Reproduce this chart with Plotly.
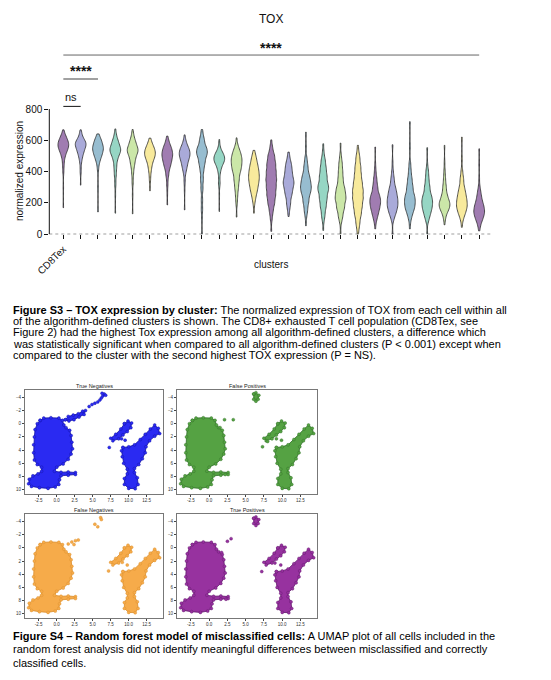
import numpy as np
import plotly.graph_objects as go

# ---------------- Figure S3 : TOX expression per cluster ----------------
cluster_labels = ["CD8Tex"] + [""] * 24
violin_colors = ["#a07cb1", "#a9aad9", "#97bdd0", "#96d6c4", "#cbe7a8", "#f8ea9c"]

# expression levels and how many cells sit at each level
tox_levels = [
    [170, 300, 400, 450, 500, 540, 575, 610, 640, 667],
    [314, 400, 450, 490, 530, 570, 600, 640, 667],
    [143, 300, 420, 470, 510, 550, 590, 620, 641],
    [135, 250, 320, 380, 430, 480, 520, 550, 590, 630, 673],
    [131, 250, 330, 390, 440, 480, 520, 550, 590, 630, 669],
    [278, 350, 400, 440, 480, 515, 550, 585, 614],
    [188, 260, 320, 380, 430, 470, 510, 550, 590, 627],
    [156, 280, 340, 400, 440, 480, 515, 550, 590, 635],
    [0, 100, 160, 220, 290, 350, 410, 460, 510, 550, 600, 640, 669],
    [146, 250, 325, 380, 420, 460, 490, 520, 560, 605],
    [110, 200, 250, 300, 350, 400, 440, 480, 520, 560, 616],
    [135, 200, 240, 280, 320, 360, 400, 440, 480, 510, 536],
    [19, 100, 150, 200, 250, 300, 350, 400, 450, 500, 550, 603],
    [114, 160, 200, 250, 290, 330, 370, 410, 450, 490, 525],
    [55, 120, 160, 210, 260, 300, 340, 380, 430, 480, 560, 652],
    [25, 90, 130, 180, 230, 280, 320, 370, 420, 470, 520, 578],
    [0, 80, 120, 170, 220, 260, 300, 350, 400, 450, 500, 582],
    [0, 40, 80, 130, 180, 230, 280, 330, 380, 430, 480, 520, 568],
    [35, 90, 130, 170, 210, 250, 300, 350, 400, 450, 557],
    [0, 100, 140, 180, 220, 260, 300, 350, 400, 460, 572],
    [35, 90, 130, 170, 210, 250, 300, 350, 400, 450, 560, 719],
    [0, 90, 130, 170, 210, 250, 300, 350, 400, 450, 553],
    [61, 110, 150, 180, 210, 250, 300, 350, 400, 460, 568],
    [45, 100, 140, 180, 220, 260, 300, 350, 400, 480, 620],
    [22, 60, 100, 140, 180, 220, 260, 300, 360, 450, 546],
]
tox_counts = [
    [1, 1, 2, 3, 6, 12, 16, 10, 3, 1],
    [1, 2, 2, 5, 10, 16, 10, 3, 1],
    [1, 1, 2, 5, 10, 14, 9, 3, 1],
    [1, 1, 2, 3, 4, 6, 10, 12, 8, 3, 1],
    [1, 1, 2, 3, 5, 7, 11, 12, 8, 3, 1],
    [1, 2, 3, 5, 9, 13, 10, 4, 1],
    [1, 1, 2, 4, 7, 10, 13, 10, 4, 1],
    [1, 1, 2, 4, 7, 10, 13, 10, 4, 1],
    [1, 1, 2, 2, 3, 4, 5, 8, 12, 11, 6, 2, 1],
    [1, 1, 3, 2, 5, 11, 12, 8, 2, 1],
    [1, 2, 3, 5, 7, 9, 11, 12, 9, 4, 1],
    [1, 2, 4, 7, 9, 11, 10, 8, 5, 2, 1],
    [1, 2, 4, 7, 9, 10, 11, 10, 9, 7, 3, 1],
    [1, 2, 4, 6, 7, 10, 7, 6, 5, 2, 1],
    [1, 2, 4, 7, 9, 11, 9, 7, 5, 3, 1, 1],
    [1, 2, 4, 7, 9, 11, 10, 9, 7, 5, 2, 1],
    [1, 2, 5, 9, 11, 9, 8, 6, 5, 4, 2, 1],
    [1, 2, 4, 7, 9, 11, 11, 9, 7, 6, 4, 2, 1],
    [1, 3, 6, 9, 11, 9, 6, 4, 2, 1, 1],
    [1, 3, 7, 10, 10, 8, 6, 4, 2, 1, 1],
    [1, 2, 5, 9, 10, 9, 7, 5, 3, 2, 1, 1],
    [1, 3, 6, 9, 10, 8, 6, 4, 3, 1, 1],
    [1, 3, 7, 10, 10, 7, 5, 3, 2, 1, 1],
    [1, 3, 7, 10, 9, 7, 5, 4, 2, 1, 1],
    [1, 3, 8, 12, 10, 6, 4, 2, 1, 1, 1],
]
y_ticks = [0, 200, 400, 600, 800]

# ---------------- Figure S4 : UMAP panels ----------------
panel_titles = ["True Negatives", "False Positives", "False Negatives", "True Positives"]
panel_colors = ["#2a2af2", "#55a243", "#f6ab4a", "#97329f"]
panel_edges = ["#10109e", "#2f6e27", "#d98d2c", "#62176c"]
umap_xticks = [-2.5, 0, 2.5, 5, 7.5, 10, 12.5]
umap_xtext = ["-2.5", "0.0", "2.5", "5.0", "7.5", "10.0", "12.5"]
umap_yticks = [-4, -2, 0, 2, 4, 6, 8, 10]

# outlines of the dense point clouds (UMAP units)
left_mass_x = [-2.3, -1.8, -0.8, 0.3, 0.8, 1.0, 1.3, 1.8, 2.0, 2.1, 2.2, 2.0, 1.6, 0.9, 0.0, -0.3,
               0.6, 1.6, 2.6, 2.6, 1.6, 0.6, 0.4, 0.3, -0.2, -1.2, -2.4, -3.5, -3.9, -3.8, -3.3,
               -2.6, -2.1, -2.1, -2.7, -3.1, -3.2, -3.2, -3.1, -3.0, -2.7, -2.3]
left_mass_y = [-0.5, -0.85, -0.9, -0.85, -0.5, 0.2, 0.6, 1.0, 1.8, 2.8, 3.8, 4.6, 5.4, 6.1, 6.6, 7.2,
               7.35, 7.3, 7.4, 7.7, 7.8, 7.9, 8.5, 9.2, 9.6, 9.8, 9.7, 9.5, 9.1, 8.4, 7.9,
               7.6, 7.2, 6.6, 6.2, 5.5, 4.4, 3.2, 2.0, 0.9, 0.0, -0.5]
right_mass_x = [9.2, 10.0, 10.8, 11.6, 12.3, 13.0, 13.6, 14.1, 14.3, 13.6, 12.9, 12.4, 12.3, 11.9,
                11.4, 10.8, 10.8, 11.2, 11.3, 10.9, 10.0, 9.4, 9.4, 9.8, 9.8, 9.3, 9.1, 9.0, 9.2]
right_mass_y = [3.6, 3.5, 3.2, 2.4, 1.6, 0.8, 0.2, 0.7, 1.5, 1.9, 2.6, 3.5, 4.4, 5.3,
                6.2, 6.8, 7.4, 8.2, 9.2, 9.85, 9.8, 9.2, 8.3, 7.6, 6.9, 6.0, 5.0, 4.1, 3.6]
right_upper_x = [9.4, 9.9, 10.4, 10.3, 9.8, 9.2, 8.6, 7.8, 7.5, 8.2, 8.9, 9.4]
right_upper_y = [0.0, -0.4, -0.1, 0.6, 1.2, 1.7, 2.3, 2.6, 2.2, 1.6, 0.8, 0.0]
bridge_x = [1.2, 1.6, 2.3, 3.0, 3.6, 4.0, 3.8, 3.1, 2.4, 1.7, 1.2]
bridge_y = [-0.6, -1.1, -1.3, -1.5, -1.9, -2.0, -1.4, -1.0, -0.6, -0.4, -0.6]
top_knot_x = [6.1, 6.4, 6.8, 6.7, 6.4, 6.1, 6.1]
top_knot_y = [-4.5, -4.7, -4.3, -3.7, -3.4, -3.7, -4.5]

# loose cells outside the dense clouds
tn_stray_x = [4.5, 4.9, 5.3, 5.7, 6.0, 6.2, 6.4, 6.6, 6.8, 6.3, 7.3, 9.0, 9.5]
tn_stray_y = [-2.6, -2.9, -3.1, -3.3, -3.6, -3.9, -4.2, -4.5, -4.3, -4.6, 3.6, 2.3, 2.5]
fp_stray_x = [2.1, 3.3, 1.5, 2.2, 7.3, 9.2, 9.9, 8.0]
fp_stray_y = [-0.6, -0.6, 0.6, 7.7, 3.5, 2.3, 2.5, 2.7]
fn_stray_x = [1.6, 2.1, 2.6, 3.0, 2.4, 5.3, 5.7, 6.1, 6.2, 7.2, 9.1, 9.8]
fn_stray_y = [-0.6, -0.9, -1.1, -1.2, -0.5, -3.6, -3.2, -4.6, -4.3, 3.5, 2.2, 2.6]
tp_stray_x = [2.5, 3.0, 1.7, 2.3, 7.2, 9.0, 9.8]
tp_stray_y = [-1.0, -1.4, 0.7, 7.8, 3.6, 2.3, 2.6]

# ---------------- captions ----------------
s3_lines = [
    "<b>Figure S3 – TOX expression by cluster:</b> The normalized expression of TOX from each cell within all",
    "of the algorithm-defined clusters is shown. The CD8+ exhausted T cell population (CD8Tex, see",
    "Figure 2) had the highest Tox expression among all algorithm-defined clusters, a difference which",
    "was statistically significant when compared to all algorithm-defined clusters (P &lt; 0.001) except when",
    "compared to the cluster with the second highest TOX expression (P = NS).",
]
s4_lines = [
    "<b>Figure S4 – Random forest model of misclassified cells:</b> A UMAP plot of all cells included in the",
    "random forest analysis did not identify meaningful differences between misclassified and correctly",
    "classified cells.",
]

# the page body keeps an 8px margin, so the figure is sized to fit inside it
OFF = 8
W, H = 551 - 2 * OFF, 680 - 2 * OFF
FONT = "Liberation Sans, Arial, sans-serif"


def px_x(p):
    return (p - OFF) / W


def px_y(p):
    return 1 - (p - OFF) / H


fig = go.Figure()

# violins
for i, (lv, ct) in enumerate(zip(tox_levels, tox_counts)):
    vals = np.repeat(lv, ct)
    fig.add_trace(go.Violin(
        x=[i] * len(vals), y=vals, xaxis="x", yaxis="y",
        width=0.62, scalemode="width", spanmode="hard", bandwidth=24,
        points=False, fillcolor=violin_colors[i % 6], opacity=1,
        line=dict(color="#2b2b2b", width=0.8), showlegend=False, hoverinfo="skip",
    ))

# umap panels
panel_polys = [
    [(left_mass_x, left_mass_y), (bridge_x, bridge_y), (right_upper_x, right_upper_y), (right_mass_x, right_mass_y)],
    [(left_mass_x, left_mass_y), (right_upper_x, right_upper_y), (right_mass_x, right_mass_y), (top_knot_x, top_knot_y)],
    [(left_mass_x, left_mass_y), (right_upper_x, right_upper_y), (right_mass_x, right_mass_y)],
    [(left_mass_x, left_mass_y), (right_upper_x, right_upper_y), (right_mass_x, right_mass_y), (top_knot_x, top_knot_y)],
]
panel_strays = [(tn_stray_x, tn_stray_y), (fp_stray_x, fp_stray_y), (fn_stray_x, fn_stray_y), (tp_stray_x, tp_stray_y)]

for k in range(4):
    ax = str(k + 2)
    for px_, py_ in panel_polys[k]:
        fig.add_trace(go.Scatter(
            x=px_, y=py_, xaxis="x" + ax, yaxis="y" + ax, mode="lines+markers",
            fill="toself", fillcolor=panel_colors[k],
            line=dict(color=panel_edges[k], width=0.8),
            marker=dict(size=3, color=panel_colors[k], line=dict(color=panel_edges[k], width=0.4)),
            showlegend=False, hoverinfo="skip",
        ))
    sx, sy = panel_strays[k]
    fig.add_trace(go.Scatter(
        x=sx, y=sy, xaxis="x" + ax, yaxis="y" + ax, mode="markers",
        marker=dict(size=3, color=panel_colors[k], line=dict(color=panel_edges[k], width=0.4)),
        showlegend=False, hoverinfo="skip",
    ))

layout = dict(
    width=W, height=H, autosize=False,
    margin=dict(l=0, r=0, t=0, b=0, pad=0),
    paper_bgcolor="white", plot_bgcolor="white",
    font=dict(family=FONT, color="#111"),
    violinmode="overlay",
    xaxis=dict(domain=[px_x(49.3), px_x(492.7)], range=[-0.81, 24.78], anchor="y", automargin=False,
               tickvals=list(range(25)), ticktext=cluster_labels, tickangle=-45,
               ticks="outside", ticklen=4, tickcolor="#111", tickfont=dict(size=10),
               showline=False, showgrid=False, zeroline=False),
    yaxis=dict(domain=[px_y(234.3), px_y(38.6)], range=[0, 1250], anchor="x", automargin=False,
               tickvals=y_ticks, ticks="outside", ticklen=4, tickcolor="#111",
               tickfont=dict(size=10), showline=False, showgrid=False, zeroline=False),
)

panel_boxes = [
    (25, 163.3, 390, 494), (177, 317.3, 390, 494),
    (25, 163.3, 514.3, 618), (177, 317.3, 514.3, 618),
]
annotations = []
for k, (x0, x1, y0, y1) in enumerate(panel_boxes):
    ax = str(k + 2)
    layout["xaxis" + ax] = dict(
        domain=[px_x(x0), px_x(x1)], range=[-4.4, 14.8], anchor="y" + ax, automargin=False,
        tickvals=umap_xticks, ticktext=umap_xtext, ticks="outside", ticklen=2,
        tickfont=dict(size=4.5, color="#333"), showline=True, mirror=True,
        linecolor="#777", linewidth=1, showgrid=False, zeroline=False)
    layout["yaxis" + ax] = dict(
        domain=[px_y(y1), px_y(y0)], range=[10.65, -5.1], anchor="x" + ax, automargin=False,
        tickvals=umap_yticks, ticks="outside", ticklen=2,
        tickfont=dict(size=4.5, color="#333"), showline=True, mirror=True,
        linecolor="#777", linewidth=1, showgrid=False, zeroline=False)
    annotations.append(dict(
        text=panel_titles[k], x=px_x((x0 + x1) / 2), y=px_y(y0 - 4), xref="paper", yref="paper",
        showarrow=False, font=dict(size=5.5, color="#222"), xanchor="center", yanchor="middle"))

# chart texts
annotations += [
    dict(text="TOX", x=px_x(271), y=px_y(19), xref="paper", yref="paper", showarrow=False,
         font=dict(size=12), xanchor="center", yanchor="middle"),
    dict(text="normalized expression", x=px_x(20), y=px_y(171), xref="paper", yref="paper",
         showarrow=False, textangle=-90, font=dict(size=10), xanchor="center", yanchor="middle"),
    dict(text="clusters", x=px_x(271), y=px_y(264), xref="paper", yref="paper", showarrow=False,
         font=dict(size=10), xanchor="center", yanchor="middle"),
    dict(text="<b>****</b>", x=12, y=1190, xref="x", yref="y", showarrow=False,
         font=dict(size=14), xanchor="center", yanchor="middle"),
    dict(text="<b>****</b>", x=1.0, y=1043, xref="x", yref="y", showarrow=False,
         font=dict(size=14), xanchor="center", yanchor="middle"),
    dict(text="ns", x=0.45, y=877, xref="x", yref="y", showarrow=False,
         font=dict(size=11), xanchor="center", yanchor="middle"),
]
for j, line in enumerate(s3_lines):
    annotations.append(dict(text=line, x=px_x(11), y=px_y(309.5 + j * 11.4), xref="paper", yref="paper",
                            showarrow=False, font=dict(size=11, color="#000"),
                            xanchor="left", yanchor="middle", align="left"))
for j, line in enumerate(s4_lines):
    annotations.append(dict(text=line, x=px_x(11), y=px_y(635.5 + j * 13.6), xref="paper", yref="paper",
                            showarrow=False, font=dict(size=11, color="#000"),
                            xanchor="left", yanchor="middle", align="left"))
layout["annotations"] = annotations

layout["shapes"] = [
    # y axis line only up to 800, dotted baseline
    dict(type="line", xref="x domain", yref="y", x0=0, x1=0, y0=0, y1=800, line=dict(color="#111", width=1)),
    dict(type="line", xref="x domain", yref="y", x0=0, x1=1, y0=0, y1=0, line=dict(color="#111", width=1, dash="dot")),
    # significance bars
    dict(type="line", xref="x", yref="y", x0=0, x1=24, y0=1145, y1=1145, line=dict(color="#666", width=1)),
    dict(type="line", xref="x", yref="y", x0=0, x1=2, y0=992, y1=992, line=dict(color="#444", width=1.2)),
    dict(type="line", xref="x", yref="y", x0=0, x1=1, y0=817, y1=817, line=dict(color="#111", width=1)),
]

fig.update_layout(layout)
fig.write_html("out.html")
